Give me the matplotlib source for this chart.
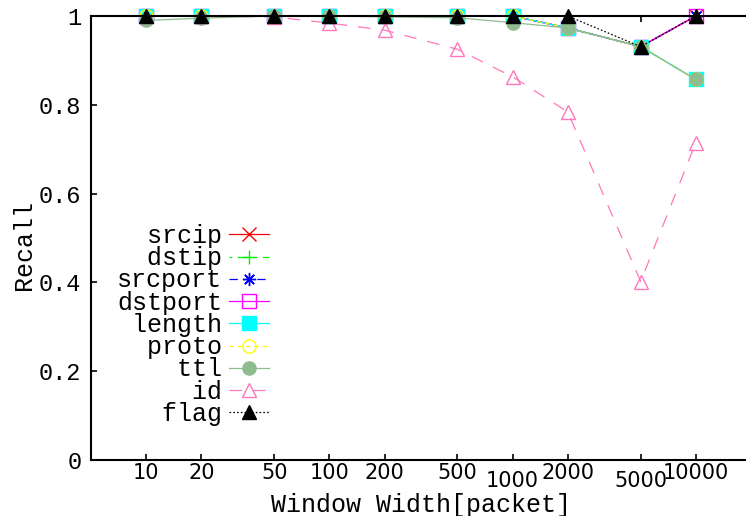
import matplotlib
matplotlib.use('Agg')
import matplotlib.pyplot as plt
from matplotlib import ticker
from matplotlib.transforms import ScaledTranslation

plt.rcParams['lines.scale_dashes'] = False

# window widths (packets)
window = [10, 20, 50, 100, 200, 500, 1000, 2000, 5000, 10000]

srcip   = [1.0, 1.0, 1.0, 1.0, 1.0, 1.0, 1.0, 0.973, 0.931, 1.0]
dstip   = [1.0, 1.0, 1.0, 1.0, 1.0, 1.0, 1.0, 0.973, 0.931, 0.857]
srcport = [1.0, 1.0, 1.0, 1.0, 1.0, 1.0, 1.0, 0.973, 0.931, 1.0]
dstport = [1.0, 1.0, 1.0, 1.0, 1.0, 1.0, 1.0, 0.973, 0.931, 1.0]
length  = [1.0, 1.0, 1.0, 1.0, 1.0, 1.0, 1.0, 0.973, 0.931, 0.857]
proto   = [1.0, 1.0, 1.0, 1.0, 1.0, 1.0, 1.0, 0.973, 0.931, 0.857]
ttl     = [0.99, 0.995, 1.0, 1.0, 0.998, 0.996, 0.985, 0.973, 0.931, 0.857]
ident   = [1.0, 1.0, 0.998, 0.984, 0.968, 0.925, 0.863, 0.784, 0.402, 0.715]
flag    = [1.0, 1.0, 1.0, 1.0, 1.0, 1.0, 1.0, 1.0, 0.931, 1.0]

names = ['srcip', 'dstip', 'srcport', 'dstport', 'length', 'proto', 'ttl', 'id', 'flag']
series = [srcip, dstip, srcport, dstport, length, proto, ttl, ident, flag]

xticks = [10, 20, 50, 100, 200, 500, 1000, 2000, 5000, 10000]
yticks = [0, 0.2, 0.4, 0.6, 0.8, 1]
ytick_labels = ['0', '0.2', '0.4', '0.6', '0.8', '1']

# gnuplot-ish look for each series
styles = [
    dict(color='#ff0000', marker='x', ls='-', mfc='#ff0000'),
    dict(color='#00ee00', marker='+', ls=(0, (2, 4, 8, 4)), mfc='#00ee00'),
    dict(color='#0000ff', marker=(8, 2, 0), ls=(0, (6, 4)), mfc='#0000ff'),
    dict(color='#ff00ff', marker='s', ls='-', mfc='none'),
    dict(color='#00ffff', marker='s', ls='-', mfc='#00ffff'),
    dict(color='#ffff00', marker='o', ls=(0, (3, 3)), mfc='none'),
    dict(color='#8fbc8f', marker='o', ls='-', mfc='#8fbc8f'),
    dict(color='#ff77bb', marker='^', ls=(0, (9, 8)), mfc='none'),
    dict(color='#000000', marker='^', ls=(0, (1.2, 1.5)), mfc='#000000'),
]

mono = 'Liberation Mono'

fig = plt.figure(figsize=(7.46, 5.16), dpi=100)
ax = fig.add_axes([91 / 746, 1 - 460 / 516, 660 / 746, 444 / 516])

pad = max(len(n) for n in names)
for name, vals, st in zip(names, series, styles):
    ax.plot(window, vals, label=name.rjust(pad), color=st['color'], ls=st['ls'],
            lw=0.9, marker=st['marker'], ms=9.5, mfc=st['mfc'],
            mec=st['color'], mew=1.0, clip_on=False)

ax.set_xscale('log')
ax.set_xlim(5, 20000)
ax.set_ylim(0, 1)
ax.xaxis.set_major_locator(ticker.FixedLocator(xticks))
ax.xaxis.set_minor_locator(ticker.NullLocator())
ax.set_xticks(xticks)
ax.set_xticklabels([str(t) for t in xticks], fontfamily='DejaVu Sans', fontsize=15)
ax.set_yticks(yticks)
ax.set_yticklabels(ytick_labels, fontfamily=mono, fontsize=17)

ax.tick_params(axis='both', which='major', direction='in', length=4.5, width=1.2,
               top=True, right=False)
ax.tick_params(axis='x', pad=2)
ax.tick_params(axis='y', pad=7)

# gnuplot pushed overlapping labels down a little
shift = ScaledTranslation(0, -8 / 100, fig.dpi_scale_trans)
for lab in ax.get_xticklabels():
    if lab.get_text() in ('1000', '5000'):
        lab.set_transform(lab.get_transform() + shift)

for side in ['left', 'bottom', 'top']:
    ax.spines[side].set_linewidth(1.5)
ax.spines['right'].set_visible(False)

ax.set_xlabel('Window Width[packet]', fontfamily=mono, fontsize=18)
ax.xaxis.set_label_coords(0.5, -0.101)
ax.xaxis.label.set_va('center')
ax.set_ylabel('Recall', fontfamily=mono, fontsize=18)
ax.yaxis.set_label_coords(-0.101, 0.484)
ax.yaxis.label.set_va('center')

leg = ax.legend(loc='center', bbox_to_anchor=(193 / 746, 1 - 325 / 516),
                bbox_transform=fig.transFigure, frameon=False, markerfirst=False,
                prop={'family': mono, 'size': 18}, handlelength=1.6,
                handletextpad=0.25, labelspacing=-0.07, borderpad=0)

fig.savefig('out.png', dpi=100)
